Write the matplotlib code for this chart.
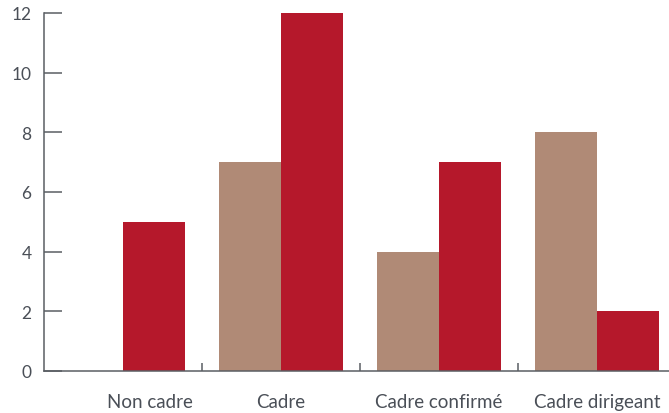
import matplotlib
matplotlib.use("Agg")
import matplotlib.pyplot as plt
import matplotlib.transforms as mtransforms
import numpy as np

categories = ["Non cadre", "Cadre", "Cadre confirmé", "Cadre dirigeant"]
series_a = [0, 7, 4, 8]
series_b = [5, 12, 7, 2]
yticks = [0, 2, 4, 6, 8, 10, 12]

col_a = "#b08a76"
col_b = "#b5182b"
txt = "#4a4f57"
axcol = "#5a5e63"

plt.rcParams['font.family'] = ['Lato', 'DejaVu Sans']

fig = plt.figure(figsize=(6.69, 4.14), dpi=100)
W, H = 669, 414
left = 44 / W
bottom = (H - 372) / H
width = 632 / W
height = (372 - 14) / H
ax = fig.add_axes([left, bottom, width, height])

x = np.arange(len(categories))
bw = 62 / 158
ax.bar(x - bw / 2, series_a, width=bw, color=col_a, linewidth=0)
ax.bar(x + bw / 2, series_b, width=bw, color=col_b, linewidth=0)

ax.set_xlim(-0.5, len(categories) - 0.5)
ax.set_ylim(0, 12)

for s in ["top", "right"]:
    ax.spines[s].set_visible(False)
for s in ["left", "bottom"]:
    ax.spines[s].set_color(axcol)
    ax.spines[s].set_linewidth(1.1)

ax.set_yticks(yticks)
ax.set_yticklabels([str(v) for v in yticks])
ax.tick_params(axis="y", direction="in", length=13, width=1.1, color=axcol,
               labelsize=12.5, labelcolor=txt, pad=9)

ax.set_xticks(x)
ax.set_xticklabels(categories)
ax.tick_params(axis="x", which="major", length=0, labelsize=13.5, labelcolor=txt, pad=16)
ax.set_xticks(x[:-1] + 0.5, minor=True)
ax.tick_params(axis="x", which="minor", direction="in", length=6, width=1.1, color=axcol)

# first label appears shifted right in the reference
lbl = ax.get_xticklabels()[0]
lbl.set_transform(lbl.get_transform() + mtransforms.ScaledTranslation(27 / 100, 0, fig.dpi_scale_trans))

fig.savefig("out.png", dpi=100)
